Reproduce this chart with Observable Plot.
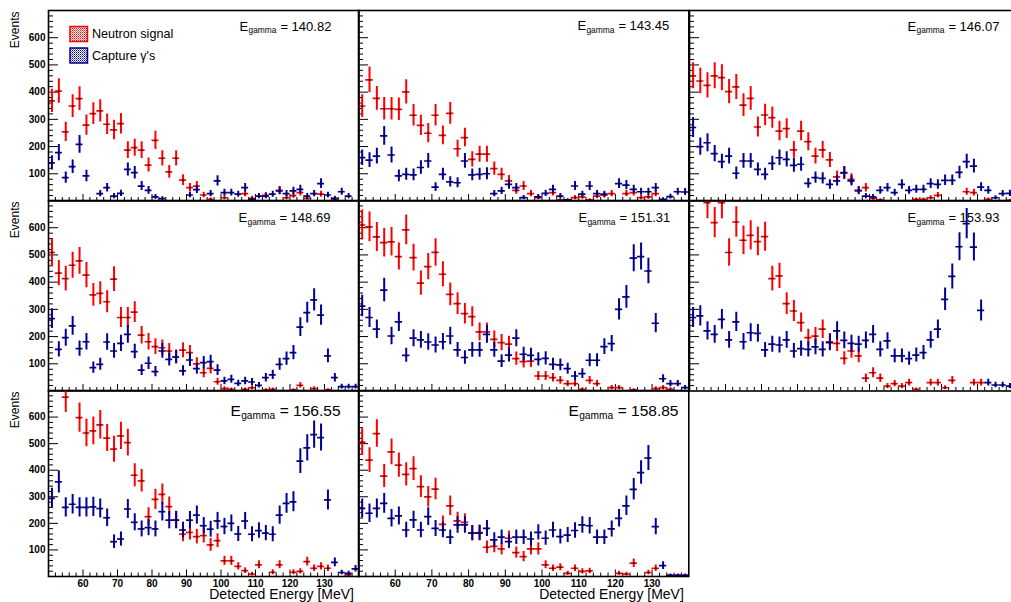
<!DOCTYPE html>
<html>
<head>
<meta charset="utf-8">
<script src="https://cdn.jsdelivr.net/npm/d3@7"></script>
<script src="https://cdn.jsdelivr.net/npm/@observablehq/plot@0.6"></script>
<style>
html, body { margin: 0; padding: 0; background: #fff; overflow: hidden; width: 1011px; height: 602px; }
#chart { position: relative; width: 1011px; height: 602px; overflow: hidden; background: #fff;
  font-family: "Liberation Sans", Arial, Helvetica, sans-serif; }
.panel { position: absolute; }
.panel svg { overflow: visible; display: block; }
#legend { position: absolute; left: 0; top: 0; }
</style>
</head>
<body>
<div id="chart"></div>
<script>
// ---------------- DATA ----------------
const binCenters = [51,53,55,57,59,61,63,65,67,69,71,73,75,77,79,81,83,85,87,89,91,93,95,97,99,101,103,105,107,109,111,113,115,117,119,121,123,125,127,129,131,133,135,137,139];

const eGammaLabels = ["140.82", "143.45", "146.07", "148.69", "151.31", "153.93", "156.55", "158.85"];

const neutron_140_82 = [368,404,254,349,376,279,321,331,282,261,284,187,196,187,132,223,157,107,157,77,49,55,22,6,null,12,null,null,27,10,null,21,null,39,12,20,31,10,null,25,null,6,null,null,null];
const capture_140_82 = [140,178,86,126,208,92,null,27,49,18,28,116,104,55,39,15,9,null,null,null,22,42,null,27,74,31,31,25,49,6,18,18,25,37,27,37,43,18,27,64,22,10,34,18,null];

const neutron_143_45 = [349,445,377,339,339,337,401,315,278,249,315,241,322,192,233,153,172,172,119,98,74,39,55,27,12,null,31,4,null,12,15,4,18,21,27,null,27,31,12,15,27,4,null,null,null];
const capture_143_45 = [159,150,165,239,169,92,98,96,123,147,51,98,70,67,147,96,98,100,27,37,61,49,12,null,15,28,43,18,4,55,25,55,27,25,null,64,58,43,34,34,49,6,16,34,33];

const neutron_146_07 = [460,441,425,460,453,402,419,352,377,272,316,306,257,266,188,257,218,165,188,151,89,102,80,37,49,10,4,null,null,null,null,6,6,12,21,null,null,null,34,31,null,6,null,null,2];
const capture_146_07 = [270,200,214,174,145,165,102,147,147,116,98,138,159,153,131,135,65,86,83,61,74,104,74,39,18,15,39,49,31,61,39,43,43,64,61,76,76,105,145,128,51,39,12,27,28];

const neutron_148_69 = [509,433,413,462,478,426,353,359,328,411,270,270,290,205,181,163,159,147,125,150,141,100,67,83,34,9,6,null,6,12,null,4,6,null,null,4,21,null,9,null,4,null,null,null,null];
const capture_148_69 = [266,153,196,239,156,181,86,98,180,147,175,208,145,77,102,71,147,116,125,74,114,82,104,108,77,37,43,28,37,33,21,49,59,98,119,141,235,288,335,279,129,49,16,16,16];

const neutron_151_31 = [610,603,566,545,548,494,592,490,396,457,509,429,355,321,284,273,217,217,190,178,172,119,108,110,55,55,49,39,27,27,6,39,27,null,12,12,null,4,null,null,9,12,6,null,null];
const capture_151_31 = [312,270,227,371,202,254,131,194,188,180,169,181,202,151,123,151,151,208,151,110,132,194,135,131,116,120,98,96,82,55,64,113,113,163,174,300,346,488,494,441,249,45,27,27,12];

const neutron_153_93 = [760,740,692,619,692,509,621,554,572,549,567,413,423,321,294,251,196,202,227,181,175,120,147,129,47,67,47,18,27,18,31,6,null,31,31,12,39,null,null,31,31,null,null,null,null];
const capture_153_93 = [270,276,221,208,263,188,254,181,214,212,151,172,169,188,147,156,153,162,153,178,221,186,175,172,186,208,153,184,129,129,119,132,141,188,227,337,421,530,615,529,296,31,22,22,18];

const neutron_156_55 = [750,730,675,720,598,540,548,571,521,479,529,504,381,360,225,290,309,263,213,159,166,150,154,119,135,59,59,38,22,9,44,null,16,44,null,16,19,56,31,38,31,null,null,6,null];
const capture_156_55 = [294,356,260,272,260,260,262,256,221,131,141,254,204,179,184,179,244,212,212,175,212,231,191,178,209,188,200,160,209,159,173,163,159,231,275,281,434,484,534,523,288,53,15,12,29];

const neutron_158_85 = [506,438,538,378,469,419,384,406,338,300,329,196,266,209,204,163,165,110,113,104,144,90,75,104,104,44,31,35,12,31,19,21,null,null,null,12,9,50,null,15,31,null,4,4,4];
const capture_158_85 = [256,238,256,275,219,228,175,213,175,225,181,175,148,194,194,163,163,181,138,148,131,148,148,141,166,144,175,150,156,173,194,191,148,148,179,219,266,328,391,446,188,41,4,4,4];

const yTickLabels = [100, 200, 300, 400, 500, 600];
const xTickLabels = [60, 70, 80, 90, 100, 110, 120, 130];
const legendLabels = ["Neutron signal", "Capture \u03b3's"];

// ---------------- STYLE / LAYOUT ----------------
const FONT = '"Liberation Sans", Arial, Helvetica, sans-serif';
const X_DOMAIN = [50, 140];
const Y_DOMAIN = [0, 700];
const BIN_HALF = 1;
const EVENT_WEIGHT = 5;           // per-event weight used for sqrt(sum w^2) error bars
const COLORS = ["#ff0000", "#000099"];
const yMinor = d3.range(20, 700, 20).filter(v => v % 100 !== 0);
const xMinor = d3.range(52, 140, 2).filter(v => v % 10 !== 0);

const colLayout = [
  {left: 48,    width: 310.5, labelDx: [191, 190, 182]},
  {left: 358,   width: 330.3, labelDx: [219, 220, 210]},
  {left: 688.7, width: 324,   labelDx: [218, 218, 218]}
];
const rowLayout = [
  {top: 9.5,   height: 190.5, font: 13,   sub: 8.4,  base: 20},
  {top: 199.5, height: 190.5, font: 13,   sub: 8.4,  base: 21.5},
  {top: 390,   height: 186,   font: 15.5, sub: 10.2, base: 25.7}
];

const panels = [
  {label: eGammaLabels[0], series: [neutron_140_82, capture_140_82], col: 0, row: 0},
  {label: eGammaLabels[1], series: [neutron_143_45, capture_143_45], col: 1, row: 0},
  {label: eGammaLabels[2], series: [neutron_146_07, capture_146_07], col: 2, row: 0},
  {label: eGammaLabels[3], series: [neutron_148_69, capture_148_69], col: 0, row: 1},
  {label: eGammaLabels[4], series: [neutron_151_31, capture_151_31], col: 1, row: 1},
  {label: eGammaLabels[5], series: [neutron_153_93, capture_153_93], col: 2, row: 1},
  {label: eGammaLabels[6], series: [neutron_156_55, capture_156_55], col: 0, row: 2},
  {label: eGammaLabels[7], series: [neutron_158_85, capture_158_85], col: 1, row: 2}
];

function seriesMarks(values, color) {
  const data = binCenters.map((e, i) => ({e, v: values[i]}))
    .filter(d => d.v != null && d.v > 0 && d.v <= Y_DOMAIN[1]);
  const err = v => Math.sqrt(EVENT_WEIGHT * v);
  return [
    Plot.ruleX(data, {x: "e", y1: d => d.v - err(d.v), y2: d => d.v + err(d.v), stroke: color, strokeWidth: 2, clip: true}),
    Plot.ruleY(data, {y: "v", x1: d => d.e - BIN_HALF, x2: d => d.e + BIN_HALF, stroke: color, strokeWidth: 1.7, clip: true}),
    Plot.dot(data, {x: "e", y: "v", r: 0.9, fill: "black", stroke: "none", clip: true})
  ];
}

const chart = document.getElementById("chart");

panels.forEach(p => {
  const c = colLayout[p.col], r = rowLayout[p.row];
  const showY = p.col === 0, showX = p.row === 2;
  const mL = showY ? c.left : 3, mR = 3, mT = 3, mB = showX ? 26 : 3;
  const W = mL + c.width + mR, H = mT + r.height + mB;
  const f = r.font, s = r.sub, x0 = c.labelDx[p.row];
  const textBase = {frameAnchor: "top-left", textAnchor: "start", lineAnchor: "bottom", fill: "black", fontFamily: FONT};

  const marks = [
    Plot.tickY(yMinor, {y: d => d, insetRight: c.width - 5, stroke: "black", strokeWidth: 1}),
    Plot.tickY(yTickLabels, {y: d => d, insetRight: c.width - 10, stroke: "black", strokeWidth: 1}),
    Plot.tickX(xMinor, {x: d => d, insetTop: r.height - 3.5, stroke: "black", strokeWidth: 1}),
    Plot.tickX(xTickLabels, {x: d => d, insetTop: r.height - 6.5, stroke: "black", strokeWidth: 1}),
    ...seriesMarks(p.series[0], COLORS[0]),
    ...seriesMarks(p.series[1], COLORS[1]),
    Plot.frame({stroke: "black", strokeWidth: 1.6}),
    Plot.text(["E"], {...textBase, text: d => d, dx: x0, dy: r.base, fontSize: f}),
    Plot.text(["gamma"], {...textBase, text: d => d, dx: x0 + 0.667 * f + 0.3, dy: r.base + 0.2 * f, fontSize: s}),
    Plot.text(["= " + p.label], {...textBase, text: d => d, dx: x0 + 0.667 * f + 3.334 * s + 0.278 * f + 0.6, dy: r.base, fontSize: f})
  ];
  if (showY) {
    marks.push(Plot.axisY({ticks: yTickLabels, tickSize: 0, tickPadding: 3, fontSize: 10, fontWeight: "bold", label: null}));
    marks.push(Plot.text(["Events"], {text: d => d, frameAnchor: "top-left", rotate: -90, textAnchor: "end", lineAnchor: "bottom",
      dx: -29.5, dy: 1, fontSize: 12, fill: "black", fontFamily: FONT}));
  }
  if (showX) {
    marks.push(Plot.axisX({ticks: xTickLabels, tickSize: 0, tickPadding: 3, fontSize: 10, fontWeight: "bold", label: null}));
    marks.push(Plot.text(["Detected Energy [MeV]"], {text: d => d, frameAnchor: "bottom-right", textAnchor: "end", lineAnchor: "bottom",
      dx: -5, dy: 22.5, fontSize: 14, fill: "black", fontFamily: FONT}));
  }

  const svg = Plot.plot({
    width: W, height: H,
    marginLeft: mL, marginRight: mR, marginTop: mT, marginBottom: mB,
    style: {background: "transparent", fontFamily: FONT, overflow: "visible", maxWidth: "none", color: "black"},
    x: {domain: X_DOMAIN, axis: null},
    y: {domain: Y_DOMAIN, axis: null},
    marks
  });
  const div = document.createElement("div");
  div.className = "panel";
  div.style.left = (c.left - mL) + "px";
  div.style.top = (r.top - mT) + "px";
  div.appendChild(svg);
  chart.appendChild(div);
});

// ---------------- LEGEND (inside first pad) ----------------
const legend = d3.select(chart).append("svg").attr("id", "legend").attr("width", 200).attr("height", 70);
const defs = legend.append("defs");
COLORS.forEach((col, i) => {
  const pat = defs.append("pattern").attr("id", "pat" + i).attr("width", 2).attr("height", 2)
    .attr("patternUnits", "userSpaceOnUse");
  pat.append("rect").attr("width", 2).attr("height", 2).attr("fill", "#fff");
  pat.append("rect").attr("width", 1).attr("height", 1).attr("fill", col);
  pat.append("rect").attr("x", 1).attr("y", 1).attr("width", 1).attr("height", 1).attr("fill", col).attr("opacity", 0.6);
});
legendLabels.forEach((lab, i) => {
  const y0 = 26.5 + i * 21.5;
  legend.append("rect").attr("x", 70).attr("y", y0).attr("width", 17.5).attr("height", 15)
    .attr("fill", `url(#pat${i})`).attr("stroke", COLORS[i]).attr("stroke-width", 1.5);
  legend.append("text").attr("x", 92).attr("y", y0 + 11.5).attr("font-size", 12.6)
    .attr("font-family", FONT).attr("fill", "black").text(lab);
});
</script>
</body>
</html>
